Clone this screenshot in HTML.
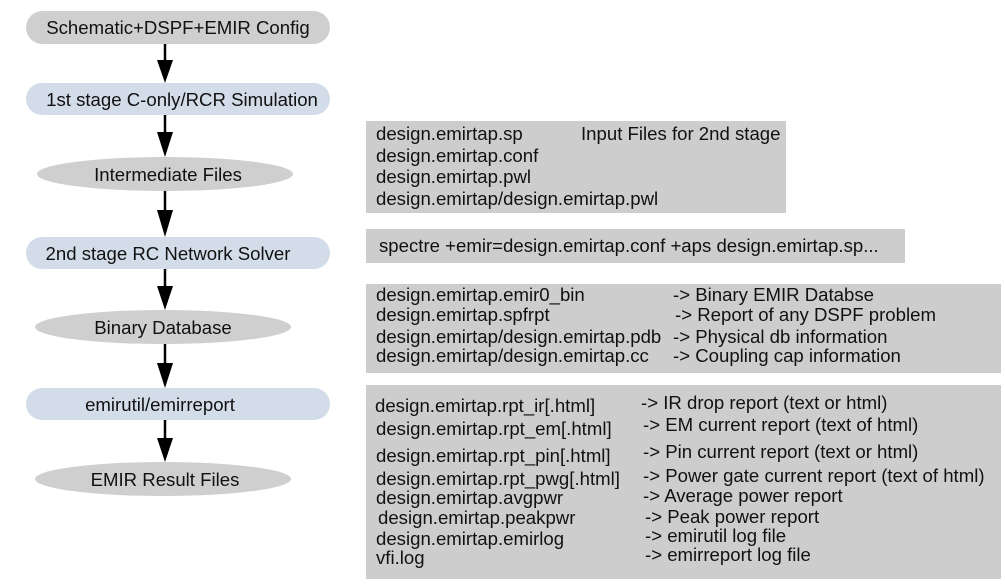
<!DOCTYPE html>
<html><head><meta charset="utf-8"><style>
html,body{margin:0;padding:0;background:#fff;}
svg{display:block;}
text{font-family:"Liberation Sans",sans-serif;font-size:18.6px;fill:#111;}
</style></head><body>
<svg width="1005" height="588" viewBox="0 0 1005 588">
<rect x="26" y="11" width="304" height="33" rx="16.5" fill="#cfcfcf"/>
<text x="178" y="34" text-anchor="middle">Schematic+DSPF+EMIR Config</text>
<rect x="26" y="83" width="304" height="32" rx="16" fill="#d3dde9"/>
<text x="182" y="106" text-anchor="middle">1st stage C-only/RCR Simulation</text>
<ellipse cx="165" cy="174" rx="128" ry="17" fill="#cfcfcf"/>
<text x="168" y="181" text-anchor="middle">Intermediate Files</text>
<rect x="26" y="237" width="304" height="32" rx="16" fill="#d3dde9"/>
<text x="168" y="260" text-anchor="middle">2nd stage RC Network Solver</text>
<ellipse cx="163" cy="327" rx="128" ry="17" fill="#cfcfcf"/>
<text x="163" y="334" text-anchor="middle">Binary Database</text>
<rect x="26" y="388" width="304" height="32" rx="16" fill="#d3dde9"/>
<text x="160" y="411" text-anchor="middle">emirutil/emirreport</text>
<ellipse cx="163" cy="479" rx="128" ry="17" fill="#cfcfcf"/>
<text x="165" y="486" text-anchor="middle">EMIR Result Files</text>
<g stroke="#000" stroke-width="2.5">
<line x1="165" y1="44" x2="165" y2="62"/><line x1="165" y1="115" x2="165" y2="134"/>
<line x1="165" y1="191" x2="165" y2="212"/><line x1="165" y1="269" x2="165" y2="288"/>
<line x1="165" y1="344" x2="165" y2="365"/><line x1="165" y1="420" x2="165" y2="440"/>
</g>
<g fill="#000">
<polygon points="157,60 173,60 165,83"/><polygon points="157,132 173,132 165,157"/>
<polygon points="157,210 173,210 165,237"/><polygon points="157,286 173,286 165,310"/>
<polygon points="157,363 173,363 165,388"/><polygon points="157,438 173,438 165,462"/>
</g>
<rect x="366" y="121" width="420" height="92" fill="#cdcdcd"/>
<text x="376" y="140">design.emirtap.sp</text><text x="581" y="140">Input Files for 2nd stage</text>
<text x="376" y="162">design.emirtap.conf</text>
<text x="376" y="183">design.emirtap.pwl</text>
<text x="376" y="205">design.emirtap/design.emirtap.pwl</text>
<rect x="366" y="229" width="539" height="34" fill="#cdcdcd"/>
<text x="379" y="252">spectre +emir=design.emirtap.conf +aps design.emirtap.sp...</text>
<rect x="366" y="284" width="635" height="89" fill="#cdcdcd"/>
<text x="376" y="301">design.emirtap.emir0_bin</text><text x="673" y="301">-&gt; Binary EMIR Databse</text>
<text x="376" y="321">design.emirtap.spfrpt</text><text x="675" y="321">-&gt; Report of any DSPF problem</text>
<text x="376" y="343">design.emirtap/design.emirtap.pdb</text><text x="673" y="343">-&gt; Physical db information</text>
<text x="376" y="362">design.emirtap/design.emirtap.cc</text><text x="673" y="362">-&gt; Coupling cap information</text>
<rect x="366" y="385" width="635" height="194" fill="#cdcdcd"/>
<text x="375" y="412">design.emirtap.rpt_ir[.html]</text><text x="641" y="409">-&gt; IR drop report (text or html)</text>
<text x="376" y="435">design.emirtap.rpt_em[.html]</text><text x="643" y="431">-&gt; EM current report (text of html)</text>
<text x="376" y="462">design.emirtap.rpt_pin[.html]</text><text x="643" y="458">-&gt; Pin current report (text or html)</text>
<text x="376" y="485">design.emirtap.rpt_pwg[.html]</text><text x="643" y="482">-&gt; Power gate current report (text of html)</text>
<text x="376" y="504">design.emirtap.avgpwr</text><text x="643" y="502">-&gt; Average power report</text>
<text x="378" y="524">design.emirtap.peakpwr</text><text x="645" y="523">-&gt; Peak power report</text>
<text x="376" y="545">design.emirtap.emirlog</text><text x="645" y="542">-&gt; emirutil log file</text>
<text x="376" y="564">vfi.log</text><text x="645" y="561">-&gt; emirreport log file</text>
</svg>
</body></html>
